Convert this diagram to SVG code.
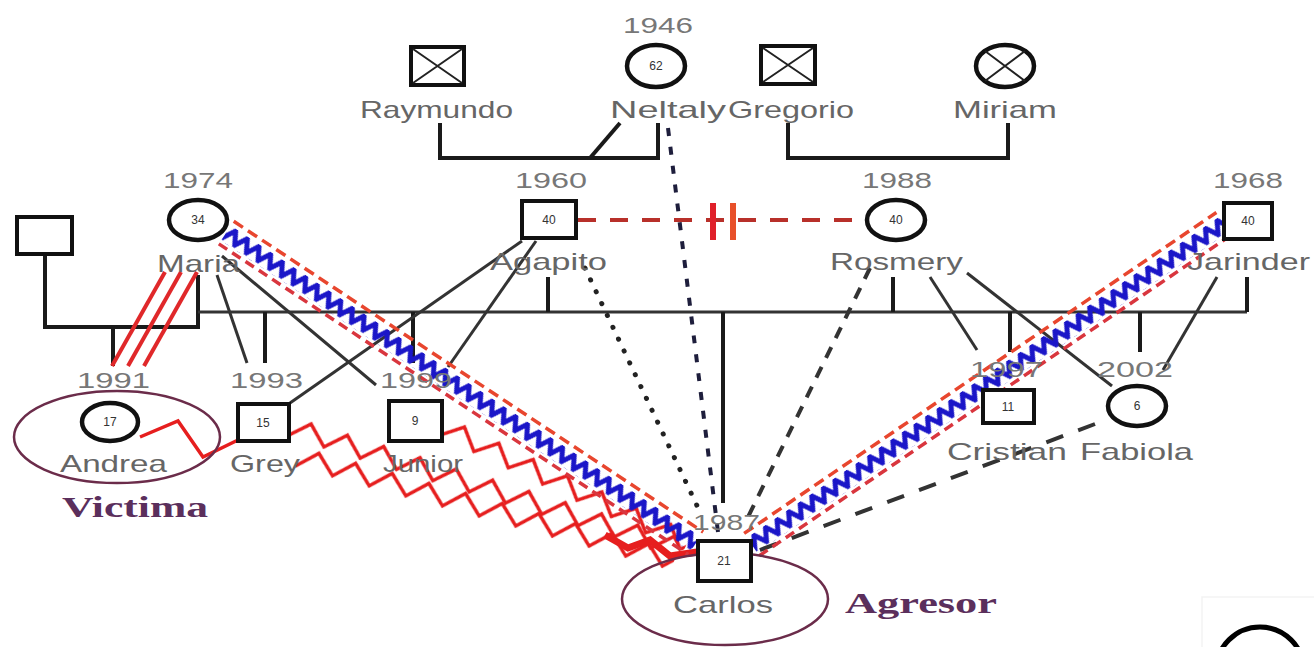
<svg xmlns="http://www.w3.org/2000/svg" width="1314" height="647" viewBox="0 0 1314 647">
<defs>
<pattern id="bz" patternUnits="userSpaceOnUse" x="0" y="-9" width="14" height="18"><path d="M-1 16 L7 2 L15 16" fill="none" stroke="#1b16c8" stroke-width="5"/></pattern>
<pattern id="rz" patternUnits="userSpaceOnUse" x="0" y="-14" width="38" height="28"><path d="M-1 23 L19 4 L39 23" fill="none" stroke="#e61e1e" stroke-width="3.5"/></pattern>
</defs>
<style>
.lbl{font-family:"Liberation Sans",Arial,sans-serif;font-size:24px;fill:#666}
.yr{font-family:"Liberation Sans",Arial,sans-serif;font-size:22px;fill:#777}
.age{font-family:"Liberation Sans",Arial,sans-serif;font-size:12px;fill:#333;text-anchor:middle}
.tag{font-family:"Liberation Serif","Times New Roman",serif;font-size:29px;font-weight:bold;fill:#5b2f5c}
.sq{fill:#fff;stroke:#111;stroke-width:4}
.ci{fill:#fff;stroke:#111;stroke-width:4.5}
.x{stroke:#222;stroke-width:2}
.ln{stroke:#333;stroke-width:3;fill:none}
.bk{stroke:#1a1a1a;stroke-width:4;fill:none}
.rd1{stroke:#e8462e;stroke-width:3.5;stroke-dasharray:11 6}
.rd2{stroke:#d9363e;stroke-width:3.5;stroke-dasharray:10 6}
.oval{fill:none;stroke:#6b2c4a;stroke-width:2.5}
</style>
<rect width="1314" height="647" fill="#fff"/>

<g id="connectors">
  <path class="bk" d="M440 123 V158 H658 V123"/>
  <path class="bk" d="M590 158 L620 123"/>
  <path class="bk" d="M788 123 V158 H1008 V123"/>
  <path class="bk" d="M45 255 V327 H198 V275"/>
  <line class="ln" x1="198" y1="312" x2="1247" y2="312"/>
  <line class="bk" x1="548" y1="277" x2="548" y2="312"/>
  <line class="bk" x1="893" y1="277" x2="893" y2="312"/>
  <line class="bk" x1="1247" y1="277" x2="1247" y2="312"/>
  <line class="bk" x1="113" y1="327" x2="113" y2="366"/>
  <line class="bk" x1="265" y1="312" x2="265" y2="363"/>
  <line class="bk" x1="413" y1="312" x2="413" y2="363"/>
  <line class="bk" x1="723" y1="312" x2="723" y2="503"/>
  <line class="bk" x1="1010" y1="312" x2="1010" y2="352"/>
  <line class="bk" x1="1140" y1="312" x2="1140" y2="352"/>
  <line class="ln" x1="217" y1="275" x2="247" y2="363"/>
  <line class="ln" x1="222" y1="256" x2="376" y2="385"/>
  <line class="ln" x1="522" y1="241" x2="290" y2="403"/>
  <line class="ln" x1="536" y1="241" x2="448" y2="367"/>
  <line class="ln" x1="930" y1="277" x2="977" y2="350"/>
  <line class="ln" x1="967" y1="273" x2="1112" y2="386"/>
  <line class="ln" x1="1217" y1="277" x2="1163" y2="370"/>
  <g stroke="#e0282a" stroke-width="4">
    <line x1="165" y1="272" x2="112" y2="366"/>
    <line x1="181" y1="272" x2="128" y2="366"/>
    <line x1="197" y1="272" x2="144" y2="366"/>
  </g>
  <line x1="578" y1="220" x2="866" y2="220" stroke="#b8302a" stroke-width="4" stroke-dasharray="18 14"/>
  <line x1="713" y1="203" x2="713" y2="240" stroke="#e0202a" stroke-width="6"/>
  <line x1="733" y1="203" x2="733" y2="240" stroke="#e8502a" stroke-width="6"/>
  <line x1="668" y1="128" x2="718" y2="532" stroke="#1e1e3c" stroke-width="4" stroke-dasharray="8 11"/>
  <line x1="585" y1="268" x2="700" y2="512" stroke="#222" stroke-width="5" stroke-linecap="round" stroke-dasharray="0.1 13"/>
  <line x1="870" y1="268" x2="748" y2="517" stroke="#333" stroke-width="4" stroke-dasharray="12 10"/>
  <line x1="1095" y1="424" x2="752" y2="553" stroke="#333" stroke-width="4" stroke-dasharray="18 16"/>
  <polyline points="140,437 178,421 203,457 238,440" fill="none" stroke="#e61e1e" stroke-width="3.5"/>
  <g transform="translate(290,428) rotate(17.2)"><rect x="0" y="-14" width="405" height="28" fill="url(#rz)"/></g>
  <g transform="translate(298,458) rotate(15.3)"><rect x="0" y="-14" width="390" height="28" fill="url(#rz)"/></g>
  <g transform="translate(443,428) rotate(25.3)"><rect x="0" y="-14" width="270" height="28" fill="url(#rz)"/></g>
  <path d="M605 535 L628 548 L650 540 L670 556 L697 552" fill="none" stroke="#e61e1e" stroke-width="7"/>
  <g transform="translate(226,233) rotate(33.5)">
    <line class="rd1" x1="0" y1="-14" x2="563" y2="-14"/>
    <rect x="0" y="-9" width="563" height="18" fill="url(#bz)"/>
    <line class="rd2" x1="0" y1="13" x2="563" y2="13"/>
  </g>
  <g transform="translate(752,545) rotate(-34.2)">
    <line class="rd1" x1="0" y1="-14" x2="571" y2="-14"/>
    <rect x="0" y="-9" width="571" height="18" fill="url(#bz)"/>
    <line class="rd2" x1="0" y1="13" x2="571" y2="13"/>
  </g>
</g>

<g id="raymundo">
  <rect class="sq" x="411" y="47" width="53" height="38"/>
  <path class="x" d="M413 49 L462 83 M462 49 L413 83"/>
  <text class="lbl" x="360" y="118" textLength="153" lengthAdjust="spacingAndGlyphs">Raymundo</text>
</g>
<g id="neltaly">
  <ellipse class="ci" cx="656" cy="66" rx="29" ry="21"/>
  <text class="age" x="656" y="70">62</text>
  <text class="yr" x="623" y="33" textLength="70" lengthAdjust="spacingAndGlyphs">1946</text>
  <text class="lbl" x="610" y="118" textLength="116" lengthAdjust="spacingAndGlyphs">Neltaly</text>
</g>
<g id="gregorio">
  <rect class="sq" x="761" y="46" width="54" height="38"/>
  <path class="x" d="M763 48 L813 82 M813 48 L763 82"/>
  <text class="lbl" x="728" y="118" textLength="126" lengthAdjust="spacingAndGlyphs">Gregorio</text>
</g>
<g id="miriam">
  <ellipse class="ci" cx="1005" cy="66" rx="29" ry="21"/>
  <path class="x" d="M985 51 L1025 81 M1025 51 L985 81"/>
  <text class="lbl" x="953" y="118" textLength="104" lengthAdjust="spacingAndGlyphs">Miriam</text>
</g>
<g id="unknown-male">
  <rect class="sq" x="17" y="217" width="55" height="37"/>
</g>
<g id="maria">
  <ellipse class="ci" cx="198" cy="220" rx="29" ry="20"/>
  <text class="age" x="198" y="224">34</text>
  <text class="yr" x="163" y="188" textLength="70" lengthAdjust="spacingAndGlyphs">1974</text>
  <text class="lbl" x="157" y="272" textLength="83" lengthAdjust="spacingAndGlyphs">Maria</text>
</g>
<g id="agapito">
  <rect class="sq" x="522" y="201" width="54" height="37"/>
  <text class="age" x="549" y="224">40</text>
  <text class="yr" x="515" y="188" textLength="72" lengthAdjust="spacingAndGlyphs">1960</text>
  <text class="lbl" x="490" y="270" textLength="117" lengthAdjust="spacingAndGlyphs">Agapito</text>
</g>
<g id="rosmery">
  <ellipse class="ci" cx="896" cy="220" rx="29" ry="20"/>
  <text class="age" x="896" y="224">40</text>
  <text class="yr" x="862" y="188" textLength="70" lengthAdjust="spacingAndGlyphs">1988</text>
  <text class="lbl" x="830" y="270" textLength="133" lengthAdjust="spacingAndGlyphs">Rosmery</text>
</g>
<g id="jarinder">
  <rect class="sq" x="1224" y="203" width="48" height="36"/>
  <text class="age" x="1248" y="225">40</text>
  <text class="yr" x="1213" y="188" textLength="70" lengthAdjust="spacingAndGlyphs">1968</text>
  <text class="lbl" x="1187" y="270" textLength="123" lengthAdjust="spacingAndGlyphs">Jarinder</text>
</g>
<g id="andrea">
  <ellipse class="oval" cx="117" cy="437" rx="103" ry="46"/>
  <ellipse class="ci" cx="110" cy="422" rx="28" ry="19"/>
  <text class="age" x="110" y="426">17</text>
  <text class="yr" x="77" y="388" textLength="73" lengthAdjust="spacingAndGlyphs">1991</text>
  <text class="lbl" x="60" y="472" textLength="107" lengthAdjust="spacingAndGlyphs">Andrea</text>
  <text class="tag" x="62" y="517" textLength="146" lengthAdjust="spacingAndGlyphs">Victima</text>
</g>
<g id="grey">
  <rect class="sq" x="238" y="404" width="51" height="37"/>
  <text class="age" x="263" y="427">15</text>
  <text class="yr" x="230" y="388" textLength="73" lengthAdjust="spacingAndGlyphs">1993</text>
  <text class="lbl" x="230" y="472" textLength="70" lengthAdjust="spacingAndGlyphs">Grey</text>
</g>
<g id="junior">
  <rect class="sq" x="389" y="401" width="53" height="40"/>
  <text class="age" x="415" y="425">9</text>
  <text class="yr" x="380" y="388" textLength="72" lengthAdjust="spacingAndGlyphs">1999</text>
  <text class="lbl" x="383" y="472" textLength="80" lengthAdjust="spacingAndGlyphs">Junior</text>
</g>
<g id="carlos">
  <ellipse class="oval" cx="725" cy="599" rx="103" ry="46"/>
  <rect class="sq" x="698" y="541" width="53" height="40"/>
  <text class="age" x="724" y="565">21</text>
  <text class="yr" x="693" y="530" textLength="67" lengthAdjust="spacingAndGlyphs">1987</text>
  <text class="lbl" x="673" y="613" textLength="100" lengthAdjust="spacingAndGlyphs">Carlos</text>
  <text class="tag" x="845" y="613" textLength="152" lengthAdjust="spacingAndGlyphs">Agresor</text>
</g>
<g id="cristian">
  <rect class="sq" x="983" y="390" width="51" height="33"/>
  <text class="age" x="1008" y="411">11</text>
  <text class="yr" x="970" y="377" textLength="73" lengthAdjust="spacingAndGlyphs">1997</text>
  <text class="lbl" x="947" y="460" textLength="120" lengthAdjust="spacingAndGlyphs">Cristian</text>
</g>
<g id="fabiola">
  <ellipse class="ci" cx="1137" cy="406" rx="29" ry="20"/>
  <text class="age" x="1137" y="410">6</text>
  <text class="yr" x="1097" y="377" textLength="76" lengthAdjust="spacingAndGlyphs">2002</text>
  <text class="lbl" x="1080" y="460" textLength="113" lengthAdjust="spacingAndGlyphs">Fabiola</text>
</g>
<g id="corner">
  <path d="M1202 647 V597 H1314" fill="none" stroke="#f3f3f3" stroke-width="1.5"/>
  <circle cx="1260" cy="671" r="44" fill="none" stroke="#000" stroke-width="5"/>
</g>
</svg>
